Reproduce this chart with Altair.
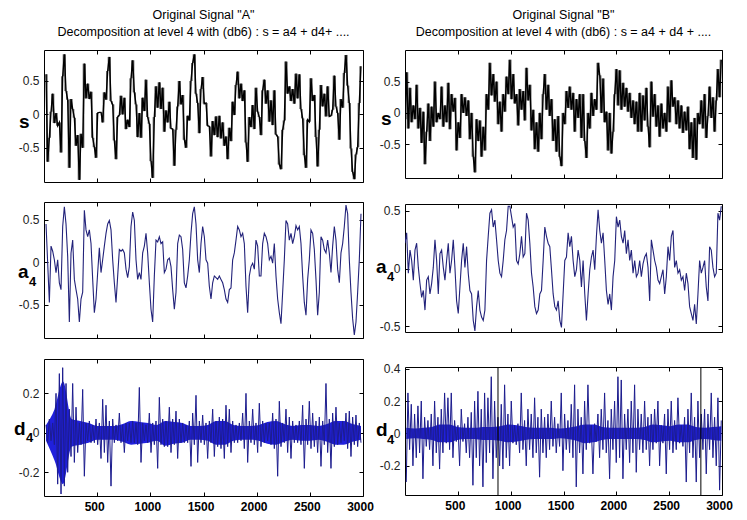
import altair as alt
import numpy as np
import pandas as pd

# ---------------- data ----------------
X_TICKS = [500, 1000, 1500, 2000, 2500, 3000]
TITLE_A = 'Original Signal "A"'
SUB_A = 'Decomposition at level 4 with (db6) : s = a4 + d4+ ....'
TITLE_B = 'Original Signal "B"'
SUB_B = 'Decomposition at level 4 with (db6) : s = a4 + d4 + ....'

s_left = [
    0.60, -0.71, -0.35, 0.04, 0.31, -0.13, 0.02, -0.17, -0.12, -0.57,
    0.57, 0.90, 0.35, 0.22, -0.80, 0.23, 0.08, -0.05, -0.47, -0.31,
    -0.98, -0.29, -0.50, 0.76, 0.24, 0.46, 0.23, 0.34, -0.35, -0.49,
    -0.65, 0.02, 0.03, 0.03, -0.12, 0.33, 0.22, 0.65, 0.86, 0.20,
    0.15, -0.39, -0.67, -0.04, -0.01, 0.28, 0.00, 0.25, -0.22, -0.08,
    -0.19, 0.54, 0.81, 0.33, 0.15, -0.34, 0.02, -0.35, 0.25, 0.05,
    0.52, -0.04, -0.14, -0.70, -0.95, -0.04, 0.42, 0.10, 0.48, 0.08,
    0.40, -0.26, 0.06, -0.12, 0.19, -0.21, -0.22, -0.77, -0.23, 0.12,
    0.50, 0.15, 0.29, -0.38, -0.50, -0.02, -0.09, 0.50, 0.77, 0.90,
    0.31, 0.17, -0.28, 0.38, 0.56, 0.16, 0.17, -0.17, -0.18, -0.63,
    -0.10, -0.31, -0.03, -0.34, -0.02, -0.36, -0.12, -0.47, -0.33, -0.67,
    -0.20, -0.40, 0.19, -0.01, 0.44, 0.64, 0.24, 0.46, 0.20, 0.36,
    -0.42, -0.71, -0.04, -0.19, 0.14, -0.22, 0.40, 0.04, -0.04, -0.31,
    0.36, 0.52, 0.16, 0.36, -0.11, 0.21, -0.16, 0.36, -0.30, -0.33,
    -0.75, -0.82, -0.23, -0.09, 0.79, 0.31, 0.42, 0.20, 0.38, 0.16,
    0.61, 0.24, 0.60, 0.08, -0.06, -0.61, -0.80, -0.08, -0.11, 0.54,
    0.20, 0.29, -0.34, -0.78, -0.23, 0.44, 0.12, 0.31, -0.03, 0.42,
    -0.03, -0.02, 0.07, 0.58, 0.12, 0.02, -0.38, 0.23, 0.10, 0.62,
    0.89, 0.43, 0.17, -0.51, -0.86, -0.97, -0.60, -0.49, 0.17, 0.72,
]

a4_left = [
    0.45, -0.01, -0.47, 0.19, 0.13, 0.03, -0.12, 0.03, -0.24, -0.32,
    0.42, 0.65, 0.45, 0.07, -0.70, 0.11, 0.26, -0.20, -0.32, -0.43,
    -0.70, -0.43, -0.35, 0.61, 0.38, 0.30, 0.38, 0.22, -0.20, -0.59,
    -0.43, -0.12, 0.17, -0.12, 0.03, 0.19, 0.34, 0.45, 0.49, 0.38,
    0.03, -0.24, -0.47, -0.16, 0.15, 0.13, 0.15, 0.11, -0.08, -0.18,
    -0.05, 0.42, 0.59, 0.49, 0.03, -0.20, -0.12, -0.20, 0.11, 0.19,
    0.34, 0.11, -0.24, -0.55, -0.70, -0.16, 0.26, 0.24, 0.30, 0.22,
    0.24, -0.12, -0.08, 0.03, 0.05, -0.05, -0.32, -0.55, -0.35, 0.22,
    0.32, 0.30,
    0.15, -0.24, -0.30, -0.16, 0.03, 0.34, 0.57, 0.65, 0.45, 0.03,
    -0.12, 0.22, 0.42, 0.30, 0.03, -0.01, -0.28, -0.43, -0.24, -0.16,
    -0.18, -0.20, -0.16, -0.20, -0.24, -0.32, -0.43, -0.47, -0.32, -0.30,
    0.03, 0.11, 0.26, 0.42, 0.38, 0.30, 0.34, 0.22, -0.28, -0.59,
    -0.16, -0.05, -0.01, -0.08, 0.26, 0.19, -0.16, -0.16, 0.22, 0.34,
    0.30, 0.22, 0.03, 0.07, -0.01, 0.22, -0.16, -0.43, -0.59, -0.72,
    -0.35, 0.03, 0.49, 0.45, 0.26, 0.34, 0.22, 0.30, 0.43, 0.38,
    0.42, 0.22, -0.16, -0.47, -0.62, -0.20, 0.03, 0.38, 0.34, 0.15,
    -0.20, -0.62, -0.35, 0.30, 0.26, 0.15, 0.11, 0.26, 0.11, -0.12,
    0.19, 0.42, 0.26, -0.08, -0.24, 0.11, 0.22, 0.42, 0.67, 0.57,
    0.03, -0.35, -0.66, -0.85, -0.70, -0.35, 0.03, 0.57,
]

# d4 (left): spike trace
d4_left = [
    0.04, -0.05, 0.07, -0.04, 0.05, -0.06, 0.20, -0.26, 0.30, -0.31,
    0.33, -0.27, 0.25, -0.20, 0.12, -0.12, 0.25, -0.15, 0.13, -0.10,
    0.05, -0.06, 0.22, -0.22, 0.05, -0.04, 0.06, -0.05, 0.04, -0.05,
    0.07, -0.06, 0.05, -0.13, 0.17, -0.10, 0.14, -0.15, 0.06, -0.27,
    0.07, -0.05, 0.04, -0.04, 0.10, -0.05, 0.04, -0.10, 0.05, -0.04,
    0.05, -0.05, 0.06, -0.05, 0.05, -0.06, 0.23, -0.15, 0.05, -0.04,
    0.04, -0.05, 0.10, -0.10, 0.05, -0.06, 0.06, -0.18, 0.18, -0.06,
    0.07, -0.07, 0.06, -0.07, 0.13, -0.10, 0.07, -0.06, 0.11, -0.13,
    0.07, -0.05, 0.05, -0.05, 0.04, -0.05, 0.06, -0.17, 0.10, -0.06,
    0.19, -0.15, 0.06, -0.05, 0.09, -0.06, 0.05, -0.13, 0.06, -0.05,
    0.12, -0.12, 0.06, -0.07, 0.08, -0.08, 0.07, -0.13, 0.14, -0.07,
    0.12, -0.10, 0.06, -0.05, 0.04, -0.05, 0.05, -0.04, 0.10, -0.08,
    0.20, -0.15, 0.06, -0.05, 0.12, -0.06, 0.05, -0.10, 0.15, -0.07,
    0.06, -0.05, 0.05, -0.04, 0.05, -0.06, 0.10, -0.08, 0.07, -0.22,
    0.16, -0.07, 0.05, -0.05, 0.12, -0.10, 0.08, -0.13, 0.06, -0.05,
    0.04, -0.05, 0.06, -0.06, 0.14, -0.18, 0.07, -0.06, 0.16, -0.08,
    0.10, -0.07, 0.06, -0.10, 0.08, -0.17, 0.06, -0.06, 0.25, -0.10,
    0.07, -0.18, 0.10, -0.07, 0.13, -0.06, 0.05, -0.05, 0.06, -0.04,
    0.10, -0.08, 0.11, -0.12, 0.08, -0.06, 0.09, -0.07, 0.05, -0.05,
]
# d4 (left): dense core band (upper / lower edge), one value per ~8 px
d4_left_core_hi = [
    0.04, 0.12, 0.26, 0.07, 0.06, 0.05, 0.035, 0.035, 0.035, 0.045,
    0.06, 0.055, 0.05, 0.04, 0.06, 0.055, 0.05, 0.035, 0.035, 0.04,
    0.06, 0.06, 0.04, 0.035, 0.035, 0.04, 0.055, 0.06, 0.045, 0.035,
    0.04, 0.04, 0.035, 0.045, 0.06, 0.06, 0.045, 0.035,
]
d4_left_core_lo = [
    -0.04, -0.14, -0.26, -0.07, -0.06, -0.05, -0.035, -0.035, -0.035, -0.045,
    -0.06, -0.055, -0.05, -0.04, -0.065, -0.055, -0.05, -0.035, -0.035, -0.04,
    -0.06, -0.06, -0.04, -0.035, -0.035, -0.04, -0.055, -0.06, -0.045, -0.035,
    -0.04, -0.04, -0.035, -0.045, -0.06, -0.06, -0.045, -0.035,
]

s_right = [
    -0.10, 0.65, -0.25, 0.40, -0.15, 0.12, -0.10, 0.45, -0.25, 0.08,
    -0.48, 0.02, -0.82, -0.30, 0.15, -0.45, 0.10, -0.22, 0.50, -0.15,
    0.00, -0.10, 0.42, -0.22, 0.12, -0.15, 0.48, -0.26, 0.30, 0.02,
    0.24, -0.60, -0.15, -0.40, 0.30, 0.00, 0.25, -0.05, 0.20, -0.42,
    0.00, -0.70, -0.95, -0.10, -0.45, -0.12, -0.70, -0.22, -0.60, 0.30,
    0.05, 0.80, 0.28, 0.62, 0.18, 0.50, -0.18, 0.18, -0.30, 0.30,
    0.02, 0.58, 0.30, 0.85, 0.22, 0.62, 0.15, 0.30, -0.20, 0.38,
    0.05, 0.35, -0.12, 0.72, 0.20, 0.45, -0.28, 0.05, -0.58, -0.15,
    -0.62, 0.00, -0.42, 0.30, 0.62, 0.05, 0.45, -0.05, 0.22, -0.45,
    -0.10, -0.62, -0.05, -0.70, -0.85, 0.00, -0.18, 0.35, 0.08, 0.42,
    0.05, 0.32, -0.30, 0.22, -0.08, 0.30, -0.40, 0.30, -0.45, -0.72,
    0.00, -0.25, 0.32, -0.05, 0.22, 0.05, 0.80, 0.60, 0.00, 0.55,
    -0.15, 0.02, -0.60, 0.00, -0.65, -0.30, 0.30, 0.70, 0.12, 0.68,
    0.05, 0.48, 0.10, 0.40, 0.02, 0.32, -0.08, 0.20, -0.18, 0.18,
    -0.30, 0.32, -0.30, 0.28, -0.12, 0.40, -0.22, -0.55, 0.50, -0.06,
    0.30, -0.22, 0.12, -0.38, 0.15, -0.25, 0.00, -0.30, 0.42, -0.15,
    0.52, 0.10, 0.25, -0.18, 0.20, -0.25, 0.12, -0.32, 0.02, -0.28,
    0.10, -0.58, -0.15, -0.72, -0.08, -0.75, 0.00, -0.18, 0.20, -0.25,
    0.30, -0.40, -0.05, 0.42, -0.08, 0.25, -0.30, 0.20, 0.70, 0.25,
    0.85,
]

a4_right = [
    0.22, 0.31, -0.04, 0.16, 0.07, -0.10, 0.16, 0.22, 0.01, -0.13,
    -0.25, -0.19, -0.36, -0.10, -0.07, -0.22, -0.13, 0.01, 0.25, 0.07,
    -0.22, 0.13, 0.16, 0.01, -0.10, 0.07, 0.22, -0.04, 0.07, 0.25,
    0.01, -0.28, -0.39, -0.16, 0.07, 0.22, 0.01, 0.19, -0.04, -0.19,
    -0.22, -0.45, -0.54, -0.33, -0.19, -0.36, -0.42, -0.45, -0.36, 0.07,
    0.28, 0.48, 0.51, 0.36, 0.42, 0.25, 0.07, -0.04, -0.07, 0.07,
    0.25, 0.33, 0.54, 0.54, 0.45, 0.36, 0.39, 0.07, 0.04, 0.13,
    0.28, 0.10, 0.13, 0.48, 0.42, 0.22, -0.04, -0.16, -0.33, -0.39,
    -0.36, -0.22, -0.19, 0.07, 0.36, 0.28, 0.22, 0.19, -0.01, -0.22,
    -0.33, -0.36, -0.28, -0.45, -0.51, -0.22, 0.07,
    0.10, 0.31, 0.19, 0.28, 0.07, -0.07, -0.01, 0.16, 0.07, -0.16,
    0.07, -0.22, -0.45, -0.22, -0.01, 0.10, 0.16, -0.01, 0.28, 0.51,
    0.33, 0.22, 0.31, 0.07, -0.19, -0.31, -0.22, -0.36, -0.07, 0.07,
    0.45, 0.36, 0.42, 0.28, 0.22, 0.33, 0.13, 0.25, 0.07, 0.16,
    -0.04, 0.07, -0.07, -0.04, 0.07, -0.07, 0.04, 0.10, 0.13, 0.01,
    -0.28, 0.25, 0.16, 0.07, 0.01, -0.10, -0.13, -0.07, -0.01, -0.22,
    -0.07, 0.19, 0.07, 0.28, 0.33, 0.01, 0.07, -0.04, -0.01, -0.10,
    -0.07, -0.19, -0.04, -0.13, -0.33, -0.39, -0.45, -0.31, -0.48, -0.22,
    0.07, -0.04, 0.01, 0.07, -0.16, -0.28, 0.19, 0.16, 0.01, -0.07,
    -0.04, 0.48, 0.42, 0.54,
]

d4_right = [
    -0.30, 0.25, -0.10, 0.18, -0.20, 0.12, -0.15, 0.17, -0.12, 0.20,
    -0.28, 0.10, -0.08, 0.08, -0.10, 0.12, -0.20, 0.20, -0.12, 0.10,
    -0.22, 0.15, -0.12, 0.25, -0.06, 0.22, -0.10, 0.25, -0.15, 0.08,
    -0.05, 0.05, -0.20, 0.15, -0.05, 0.06, -0.12, 0.10, -0.15, 0.13,
    -0.32, 0.20, -0.15, 0.26, -0.20, 0.15, -0.33, 0.25, -0.18, 0.22,
    -0.12, 0.35, -0.28, 0.20, -0.15, 0.10, -0.20, 0.18, -0.22, 0.30,
    -0.15, 0.12, -0.20, 0.20, -0.06, 0.05, -0.07, 0.06, -0.12, 0.25,
    -0.10, 0.08, -0.20, 0.15, -0.10, 0.12, -0.15, 0.22, -0.12, 0.10,
    -0.27, 0.15, -0.12, 0.10, -0.15, 0.12, -0.10, 0.20, -0.08, 0.10,
    -0.12, 0.06, -0.08, 0.25, -0.23, 0.12, -0.10, 0.08, -0.12, 0.18,
    -0.15, 0.30, -0.33, 0.15, -0.12, 0.10, -0.25, 0.20, -0.10, 0.30,
    -0.06, 0.05, -0.25, 0.06, -0.05, 0.12, -0.15, 0.15, -0.10, 0.25,
    -0.12, 0.08, -0.28, 0.15, -0.10, 0.20, -0.18, 0.35, -0.15, 0.33,
    -0.28, 0.12, -0.10, 0.15, -0.18, 0.20, -0.12, 0.30, -0.24, 0.15,
    -0.10, 0.12, -0.12, 0.20, -0.10, 0.10, -0.20, 0.12, -0.10, 0.15,
    -0.06, 0.20, -0.20, 0.05, -0.06, 0.12, -0.25, 0.15, -0.10, 0.20,
    -0.12, 0.08, -0.10, 0.22, -0.06, 0.05, -0.08, 0.10, -0.30, 0.15,
    -0.12, 0.25, -0.15, 0.10, -0.30, 0.20, -0.15, 0.12, -0.10, 0.15,
    -0.25, 0.12, -0.10, 0.25, -0.15, 0.10, -0.20, 0.22, -0.35, 0.08,
]
d4_right_core_hi = [
    0.035, 0.03, 0.035, 0.04, 0.055, 0.055, 0.04, 0.035, 0.035, 0.04,
    0.04, 0.045, 0.055, 0.05, 0.04, 0.035, 0.035, 0.035, 0.03, 0.035,
    0.045, 0.055, 0.055, 0.04, 0.035, 0.035, 0.035, 0.035, 0.04, 0.055,
    0.05, 0.045, 0.055, 0.055, 0.04, 0.035, 0.04, 0.045,
]
d4_right_core_lo = [
    -0.035, -0.03, -0.035, -0.04, -0.055, -0.055, -0.04, -0.035, -0.035, -0.04,
    -0.04, -0.045, -0.055, -0.05, -0.04, -0.035, -0.035, -0.035, -0.03, -0.035,
    -0.045, -0.06, -0.055, -0.04, -0.035, -0.035, -0.035, -0.035, -0.04, -0.055,
    -0.05, -0.045, -0.055, -0.055, -0.04, -0.035, -0.04, -0.045,
]

# two full-height vertical strokes seen in the right d4 panel (sample index)
d4_right_marks = [880, 2800]

# ---------------- styling ----------------
FONT = "Liberation Sans, Arial, sans-serif"
INWARD = {"expr": "-4"}
NUM_LABEL = "'' + datum.value"


def panel(values, x_first, x_last, y_domain, y_ticks, color, stroke_w, w, h,
          show_x_labels, name, sub, name_pos, sub_pos, titles=None, rules=None,
          dense_fill=False, core=None, core_color=None):
    xs = np.linspace(x_first, x_last, len(values))
    df = pd.DataFrame({"sample": xs, "value": values})
    xsc = alt.Scale(domain=[0, 3000], nice=False, zero=False)
    ysc = alt.Scale(domain=y_domain, nice=False, zero=False)
    ax_b = alt.Axis(orient="bottom", values=X_TICKS, labels=show_x_labels,
                    domain=False, grid=False, tickSize=INWARD, labelPadding=9,
                    labelFont=FONT, labelFontSize=12, labelFontWeight="bold",
                    labelColor="black", labelOffset=-3, labelFlush=False,
                    labelExpr=NUM_LABEL, title=None)
    ax_l = alt.Axis(orient="left", values=y_ticks, domain=False, grid=False,
                    tickSize=INWARD, labelPadding=9, labelFont=FONT,
                    labelFontSize=12, labelColor="#222222",
                    labelExpr=NUM_LABEL, title=None)
    ax_t = alt.Axis(orient="top", values=X_TICKS, labels=False, domain=False,
                    grid=False, tickSize=INWARD, title=None)
    ax_r = alt.Axis(orient="right", values=y_ticks, labels=False, domain=False,
                    grid=False, tickSize=INWARD, title=None)
    base = alt.Chart(df)
    layers = []
    if core is not None:
        hi, lo = core
        cdf = pd.DataFrame({"sample": np.linspace(x_first, x_last, len(hi)),
                            "hi": hi, "lo": lo})
        layers.append(
            alt.Chart(cdf).mark_area(color=core_color, interpolate="monotone",
                                     clip=True).encode(
                x=alt.X("sample:Q", scale=xsc, axis=None),
                y=alt.Y("hi:Q", scale=ysc, axis=None),
                y2="lo:Q"))
    if dense_fill:
        # each pixel column of a dense trace is inked between successive values
        rdf = pd.DataFrame({"x0": xs[:-1], "x1": xs[1:],
                            "v0": values[:-1], "v1": values[1:]})
        layers.append(
            alt.Chart(rdf).mark_rect(color=color, opacity=0.6, clip=True).encode(
                x=alt.X("x0:Q", scale=xsc, axis=None), x2="x1:Q",
                y=alt.Y("v0:Q", scale=ysc, axis=None), y2="v1:Q"))
    layers += [
        base.mark_line(color=color, strokeWidth=stroke_w, clip=True).encode(
            x=alt.X("sample:Q", scale=xsc, axis=ax_b),
            y=alt.Y("value:Q", scale=ysc, axis=ax_l)),
        base.mark_line(strokeOpacity=0).encode(
            x=alt.X("sample:Q", scale=xsc, axis=ax_t),
            y=alt.Y("value:Q", scale=ysc, axis=ax_r)),
    ]
    if rules:
        layers.append(
            alt.Chart(pd.DataFrame({"sample": rules}))
            .mark_rule(color="black", strokeWidth=1)
            .encode(x=alt.X("sample:Q", scale=xsc, axis=None)))
    layers.append(
        alt.Chart(pd.DataFrame({"t": [name]}))
        .mark_text(font=FONT, fontSize=19, fontWeight="bold", align="left",
                   baseline="alphabetic", color="black")
        .encode(text="t:N", x=alt.value(name_pos[0]), y=alt.value(name_pos[1])))
    if sub:
        layers.append(
            alt.Chart(pd.DataFrame({"t": [sub]}))
            .mark_text(font=FONT, fontSize=13, fontWeight="bold", align="left",
                       baseline="alphabetic", color="black")
            .encode(text="t:N", x=alt.value(sub_pos[0]), y=alt.value(sub_pos[1])))
    if titles:
        for txt, yy in zip(titles, [-31.5, -14]):
            layers.append(
                alt.Chart(pd.DataFrame({"t": [txt]}))
                .mark_text(font=FONT, fontSize=12.5, align="center",
                           baseline="alphabetic", color="black")
                .encode(text="t:N", x=alt.value(w / 2), y=alt.value(yy)))
    return alt.layer(*layers).properties(width=w, height=h)


S_COLOR = "black"
A_COLOR = "#22227a"
D_COLOR = "#1c1c8e"
CORE_COLOR = "#2020dc"

sL = panel(s_left, 19, 2981, [-1.012, 0.964], [-0.5, 0, 0.5], S_COLOR, 1.4,
           319, 132, False, "s", None, (-25, 78), None, titles=[TITLE_A, SUB_A],
           dense_fill=True)
aL = panel(a4_left, 19, 2981, [-0.887, 0.707], [-0.5, 0, 0.5], A_COLOR, 1.1,
           319, 136, False, "a", "4", (-26, 76), (-15, 84))
dL = panel(d4_left, 19, 2981, [-0.32, 0.374], [-0.2, 0, 0.2], D_COLOR, 1.0,
           319, 137, True, "d", "4", (-30, 76), (-18, 83),
           core=(d4_left_core_hi, d4_left_core_lo), core_color=CORE_COLOR)

sR = panel(s_right, 0, 2993, [-1.04, 1.005], [-0.5, 0, 0.5], S_COLOR, 1.4,
           317, 128, False, "s", None, (-24, 75), None, titles=[TITLE_B, SUB_B],
           dense_fill=True)
aR = panel(a4_right, 0, 2993, [-0.55, 0.56], [-0.5, 0, 0.5], A_COLOR, 1.1,
           317, 128, False, "a", "4", (-29, 69), (-18, 77))
dR = panel(d4_right, 12, 2993, [-0.38, 0.41], [-0.2, 0, 0.2, 0.4], D_COLOR, 1.0,
           317, 128, True, "d", "4", (-29, 69), (-18, 77), rules=d4_right_marks,
           core=(d4_right_core_hi, d4_right_core_lo), core_color=CORE_COLOR)

left = alt.vconcat(sL, alt.vconcat(aL, dL, spacing=21, bounds="flush"),
                   spacing=20, bounds="flush")
right = alt.vconcat(sR, alt.vconcat(aR, dR, spacing=35, bounds="flush"),
                    spacing=26, bounds="flush")

chart = (
    alt.hconcat(left, right, spacing=1)
    .properties(padding={"left": 5, "top": 0, "right": 5, "bottom": 2},
                background="white")
    .configure_view(stroke="black", strokeWidth=1)
    .configure_axis(tickColor="black", tickWidth=1)
)

chart.save("out.html", embed_options={"renderer": "svg", "actions": False})
